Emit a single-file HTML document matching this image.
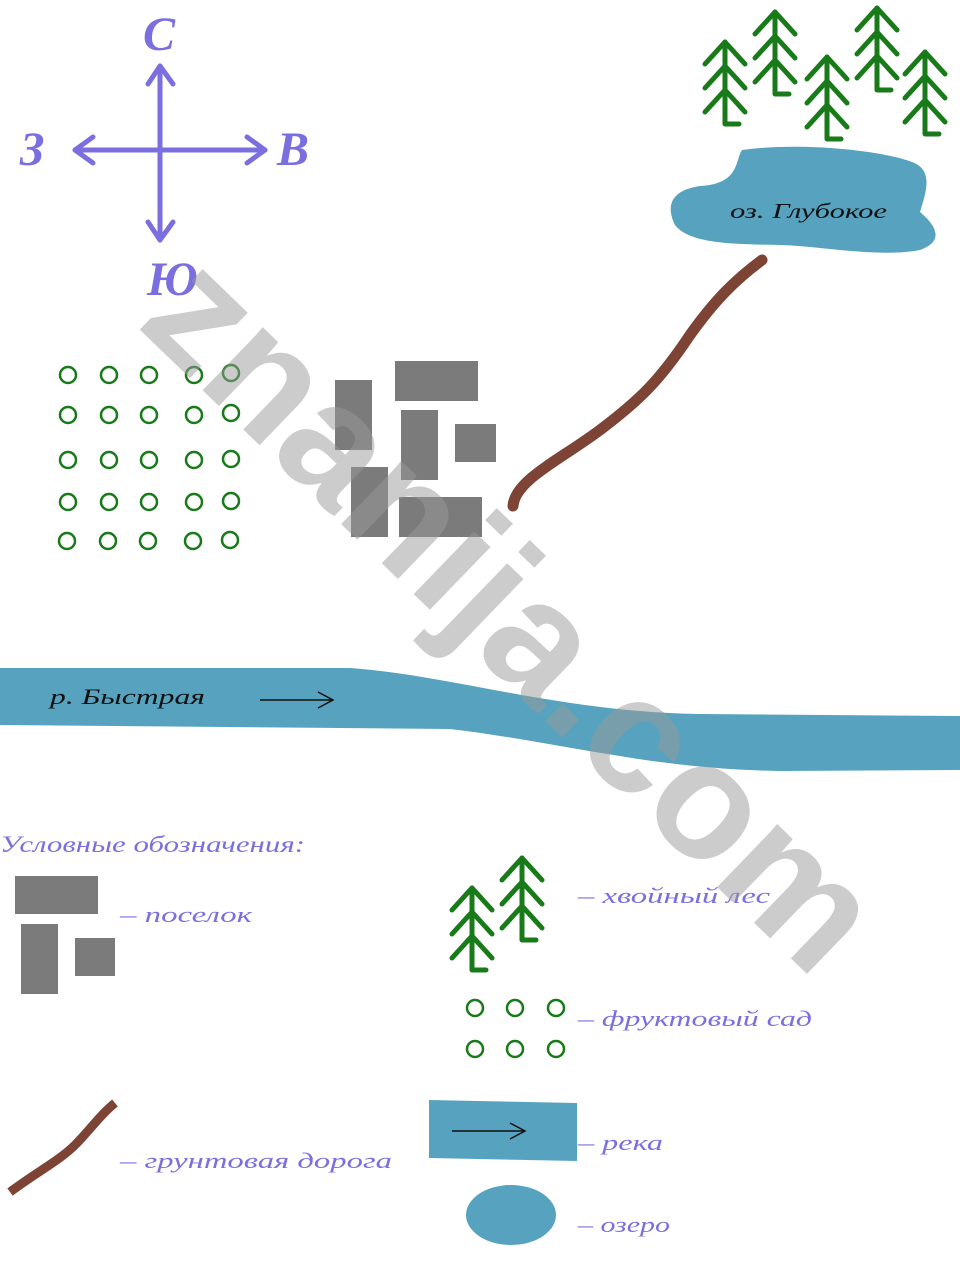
<!DOCTYPE html>
<html><head><meta charset="utf-8"><style>
html,body{margin:0;padding:0;background:#fff}
svg{display:block}
.p{font-family:"Liberation Serif",serif;font-style:italic;fill:#7b6fe0}
.k{font-family:"Liberation Serif",serif;font-style:italic;fill:#111}
</style></head><body>
<svg width="960" height="1280" viewBox="0 0 960 1280" xmlns="http://www.w3.org/2000/svg">
<defs>
<g id="tree" fill="none" stroke="#187a18" stroke-width="5" stroke-linecap="round" stroke-linejoin="round">
<path d="M0,0 V82 H14"/>
<path d="M-20,22 L0,0 L20,22 M-20,46 L0,24 L20,46 M-20,70 L0,48 L20,70"/>
</g>
<circle id="c" r="8" fill="none" stroke="#187a18" stroke-width="2.5"/>
</defs>
<g stroke="#7b6fe0" stroke-width="5" fill="none" stroke-linecap="round" stroke-linejoin="round">
<path d="M160,66 V240 M75,150 H265"/>
<path d="M148,84 L160,66 L173,84 M148,222 L160,240 L173,222 M93,137 L75,150 L93,163 M247,137 L265,150 L247,163"/>
</g>
<text class="p" x="143" y="50" font-size="48" font-weight="bold">С</text>
<text class="p" x="20" y="165" font-size="48" font-weight="bold">З</text>
<text class="p" x="277" y="165" font-size="48" font-weight="bold">В</text>
<text class="p" x="147" y="295" font-size="48" font-weight="bold">Ю</text>
<use href="#tree" x="725" y="42"/><use href="#tree" x="775" y="12"/><use href="#tree" x="827" y="57"/><use href="#tree" x="877" y="8"/><use href="#tree" x="925" y="52"/>
<path d="M742,150 C800,142 880,150 912,162 C935,170 925,195 920,212 C932,222 948,240 920,250 C880,258 820,246 780,245 C740,244 690,245 675,225 C665,205 672,190 700,186 C740,184 735,160 742,150 Z" fill="#57a3bf"/>
<text class="k" x="730" y="218" font-size="21" textLength="157" lengthAdjust="spacingAndGlyphs">оз. Глубокое</text>
<path d="M513,506 C515,480 560,460 600,430 C640,400 660,380 690,335 C715,300 735,280 762,260" fill="none" stroke="#7d4436" stroke-width="11" stroke-linecap="round"/>
<g>
<use href="#c" x="68" y="375"/><use href="#c" x="109" y="375"/><use href="#c" x="149" y="375"/><use href="#c" x="194" y="375"/><use href="#c" x="231" y="373"/>
<use href="#c" x="68" y="415"/><use href="#c" x="109" y="415"/><use href="#c" x="149" y="415"/><use href="#c" x="194" y="415"/><use href="#c" x="231" y="413"/>
<use href="#c" x="68" y="460"/><use href="#c" x="109" y="460"/><use href="#c" x="149" y="460"/><use href="#c" x="194" y="460"/><use href="#c" x="231" y="459"/>
<use href="#c" x="68" y="502"/><use href="#c" x="109" y="502"/><use href="#c" x="149" y="502"/><use href="#c" x="194" y="502"/><use href="#c" x="231" y="501"/>
<use href="#c" x="67" y="541"/><use href="#c" x="108" y="541"/><use href="#c" x="148" y="541"/><use href="#c" x="193" y="541"/><use href="#c" x="230" y="540"/>
</g>
<g fill="#7b7b7b">
<rect x="335" y="380" width="37" height="70"/><rect x="395" y="361" width="83" height="40"/>
<rect x="401" y="410" width="37" height="70"/><rect x="455" y="424" width="41" height="38"/>
<rect x="351" y="467" width="37" height="70"/><rect x="399" y="497" width="83" height="40"/>
</g>
<path d="M0,668 L350,668 C450,675 560,712 700,714 L960,716 L960,770 L780,771 C650,769 560,742 450,729 L0,725 Z" fill="#57a3bf"/>
<text class="k" x="50" y="704" font-size="22" textLength="155" lengthAdjust="spacingAndGlyphs">р. Быстрая</text>
<path d="M260,700 H333 M318,692 L333,700 L318,708" stroke="#111" stroke-width="1.5" fill="none"/>
<text class="p" x="0" y="852" font-size="23" textLength="305" lengthAdjust="spacingAndGlyphs">Условные обозначения:</text>
<g fill="#7b7b7b"><rect x="15" y="876" width="83" height="38"/><rect x="21" y="924" width="37" height="70"/><rect x="75" y="938" width="40" height="38"/></g>
<text class="p" x="120" y="922" font-size="22" textLength="132" lengthAdjust="spacingAndGlyphs">– поселок</text>
<use href="#tree" x="472" y="888"/><use href="#tree" x="522" y="858"/>
<text class="p" x="578" y="903" font-size="22" textLength="192" lengthAdjust="spacingAndGlyphs">– хвойный лес</text>
<use href="#c" x="475" y="1008"/><use href="#c" x="515" y="1008"/><use href="#c" x="556" y="1008"/>
<use href="#c" x="475" y="1049"/><use href="#c" x="515" y="1049"/><use href="#c" x="556" y="1049"/>
<text class="p" x="578" y="1026" font-size="22" textLength="234" lengthAdjust="spacingAndGlyphs">– фруктовый сад</text>
<path d="M10,1192 C40,1170 60,1160 75,1145 C90,1130 100,1115 115,1103" fill="none" stroke="#7d4436" stroke-width="9"/>
<text class="p" x="120" y="1168" font-size="22" textLength="272" lengthAdjust="spacingAndGlyphs">– грунтовая дорога</text>
<path d="M429,1100 L577,1103 L577,1161 L429,1158 Z" fill="#57a3bf"/>
<path d="M452,1131 H525 M510,1123 L525,1131 L510,1139" stroke="#111" stroke-width="1.5" fill="none"/>
<text class="p" x="578" y="1150" font-size="22" textLength="85" lengthAdjust="spacingAndGlyphs">– река</text>
<ellipse cx="511" cy="1215" rx="45" ry="30" fill="#57a3bf"/>
<text class="p" x="578" y="1232" font-size="22" textLength="92" lengthAdjust="spacingAndGlyphs">– озеро</text>
<text x="0" y="0" transform="translate(135,325) rotate(44)" font-family="Liberation Sans,sans-serif" font-weight="bold" font-size="165" fill="#9a9a9a" fill-opacity="0.5">znanija.com</text>
</svg>
</body></html>
